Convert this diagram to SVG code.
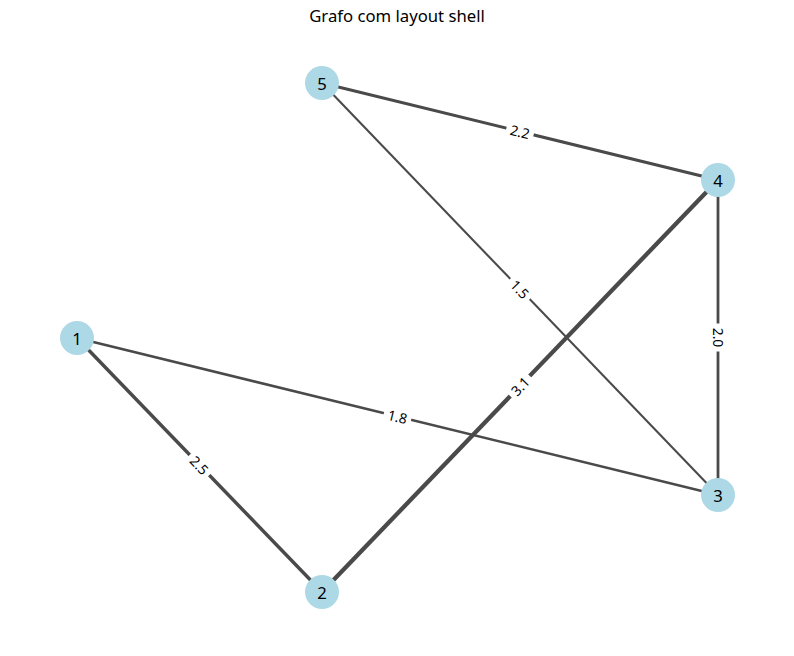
<svg xmlns="http://www.w3.org/2000/svg" width="794" height="656" viewBox="0 0 794 656">
  <style>
    .edge { stroke: #4a4a4a; stroke-linecap: butt; fill: none; }
    .node circle { fill: #add8e6; }
    .node text { font-family: "Noto Sans", "DejaVu Sans", sans-serif; font-size: 16.7px; fill: #000; text-anchor: middle; dominant-baseline: central; }
    .elabel rect { fill: #fff; }
    .elabel text { font-family: "Noto Sans", "DejaVu Sans", sans-serif; font-size: 13.9px; fill: #000; text-anchor: middle; dominant-baseline: central; }
    .title { font-family: "Noto Sans", "DejaVu Sans", sans-serif; font-size: 16.7px; fill: #000; text-anchor: middle; }
  </style>
  <rect width="794" height="656" fill="#fff"/>
  <text class="title" x="397" y="22">Grafo com layout shell</text>

  <g id="edges">
    <line class="edge" x1="322" y1="83" x2="718" y2="180" stroke-width="3.05"/>
    <line class="edge" x1="77" y1="338" x2="322" y2="592" stroke-width="3.45"/>
    <line class="edge" x1="322" y1="592" x2="718" y2="180" stroke-width="4.3"/>
    <line class="edge" x1="322" y1="83" x2="718" y2="495" stroke-width="2.08"/>
    <line class="edge" x1="718" y1="180" x2="718" y2="495" stroke-width="2.78"/>
    <line class="edge" x1="77" y1="338" x2="718" y2="495" stroke-width="2.5"/>

    <g class="elabel" transform="translate(520,131.5) rotate(13.8)">
      <rect x="-14" y="-7.5" width="28" height="15" rx="3"/>
      <text x="0" y="0">2.2</text>
    </g>
    <g class="elabel" transform="translate(199.5,465) rotate(46)">
      <rect x="-14" y="-7.5" width="28" height="15" rx="3"/>
      <text x="0" y="0">2.5</text>
    </g>
    <g class="elabel" transform="translate(520,386) rotate(-46.1)">
      <rect x="-14" y="-7.5" width="28" height="15" rx="3"/>
      <text x="0" y="0">3.1</text>
    </g>
    <g class="elabel" transform="translate(520,289) rotate(46.1)">
      <rect x="-14" y="-7.5" width="28" height="15" rx="3"/>
      <text x="0" y="0">1.5</text>
    </g>
    <g class="elabel" transform="translate(718,337.5) rotate(90)">
      <rect x="-14" y="-7.5" width="28" height="15" rx="3"/>
      <text x="0" y="0">2.0</text>
    </g>
    <g class="elabel" transform="translate(397.5,416.5) rotate(13.8)">
      <rect x="-14" y="-7.5" width="28" height="15" rx="3"/>
      <text x="0" y="0">1.8</text>
    </g>
  </g>

  <g id="node-1" class="node"><circle cx="77" cy="338" r="17"/><text x="77" y="338">1</text></g>
  <g id="node-2" class="node"><circle cx="322" cy="592" r="17"/><text x="322" y="592">2</text></g>
  <g id="node-3" class="node"><circle cx="718" cy="495" r="17"/><text x="718" y="495">3</text></g>
  <g id="node-4" class="node"><circle cx="718" cy="180" r="17"/><text x="718" y="180">4</text></g>
  <g id="node-5" class="node"><circle cx="322" cy="83" r="17"/><text x="322" y="83">5</text></g>
</svg>
